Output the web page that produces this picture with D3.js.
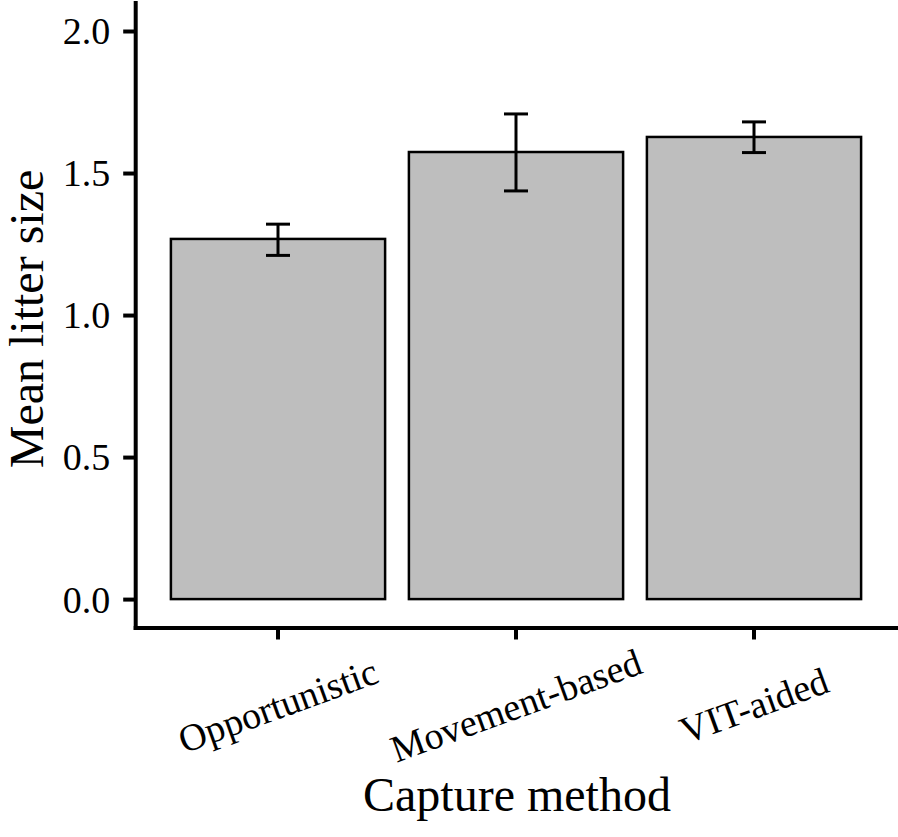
<!DOCTYPE html>
<html>
<head>
<meta charset="utf-8">
<script src="https://cdn.jsdelivr.net/npm/d3@7"></script>
<style>
	body { margin: 0; background: #fff; }
	svg text { font-family: "Liberation Serif", "Times New Roman", serif; fill: #000; }
</style>
</head>
<body>
<div id="graph"></div>
<script>
"use strict";
// values
let categories = ["Opportunistic", "Movement-based", "VIT-aided"];
let meanLitter = [1.268, 1.574, 1.627];
let errLow = [1.210, 1.437, 1.572];
let errHigh = [1.320, 1.708, 1.680];
let yTicks = [0, 0.5, 1.0, 1.5, 2.0];

let width = 898, height = 837;
let plot = { left: 135.2, right: 896.8, top: 2.6, bottom: 627.5 };

let svg = d3.select("#graph")
			.append("svg")
			.attr("width", width)
			.attr("height", height);

let x = d3.scaleBand()
		.domain(categories)
		.range([plot.left, plot.right])
		.paddingInner(0.1)
		.paddingOuter(0.15);

let y = d3.scaleLinear()
		.domain([-0.1, 2.1])
		.range([plot.bottom, plot.top]);

let data = categories.map(function(c, i)
{
	return { name: c, value: meanLitter[i], lo: errLow[i], hi: errHigh[i] };
});

// bars
svg.append("g")
	.selectAll("rect")
	.data(data)
	.enter().append("rect")
	.attr("x", function(d) { return x(d.name); })
	.attr("width", x.bandwidth())
	.attr("y", function(d) { return y(d.value); })
	.attr("height", function(d) { return y(0) - y(d.value); })
	.attr("fill", "#bebebe")
	.attr("stroke", "#000")
	.attr("stroke-width", 2.5);

// error bars
let capHalf = 12;
let eb = svg.append("g")
			.attr("stroke", "#000")
			.attr("stroke-width", 3)
			.selectAll("g")
			.data(data)
			.enter().append("g");
eb.append("line")
	.attr("x1", function(d) { return x(d.name) + x.bandwidth() / 2; })
	.attr("x2", function(d) { return x(d.name) + x.bandwidth() / 2; })
	.attr("y1", function(d) { return y(d.lo); })
	.attr("y2", function(d) { return y(d.hi); });
["lo", "hi"].forEach(function(k)
{
	eb.append("line")
		.attr("x1", function(d) { return x(d.name) + x.bandwidth() / 2 - capHalf; })
		.attr("x2", function(d) { return x(d.name) + x.bandwidth() / 2 + capHalf; })
		.attr("y1", function(d) { return y(d[k]); })
		.attr("y2", function(d) { return y(d[k]); });
});

// y axis
let yAxis = svg.append("g")
			.attr("transform", "translate(" + plot.left + ",0)")
			.call(d3.axisLeft(y).tickValues(yTicks).tickFormat(d3.format(".1f")).tickSize(12).tickSizeOuter(0).tickPadding(13));

// x axis
let xAxis = svg.append("g")
			.attr("transform", "translate(0," + plot.bottom + ")")
			.call(d3.axisBottom(x).tickSize(12).tickSizeOuter(0));

[yAxis, xAxis].forEach(function(ax)
{
	ax.select(".domain").attr("stroke", "#000").attr("stroke-width", 4).attr("stroke-linecap", "square");
	ax.selectAll(".tick line").attr("stroke", "#000").attr("stroke-width", 4);
});

yAxis.selectAll(".tick text")
	.attr("font-size", 38)
	.attr("font-family", null)
	.attr("fill", "#000")
	.attr("dy", "0.34em");

xAxis.selectAll(".tick text")
	.attr("font-size", 38)
	.attr("font-family", null)
	.attr("fill", "#000")
	.attr("y", 0)
	.attr("dy", null)
	.attr("text-anchor", "middle")
	.attr("dominant-baseline", "central")
	.attr("transform", "translate(0,78) rotate(-20)");
xAxis.attr("font-family", null);
yAxis.attr("font-family", null);

// axis titles
svg.append("text")
	.attr("x", 517)
	.attr("y", 811)
	.attr("text-anchor", "middle")
	.attr("font-size", 48)
	.text("Capture method");

svg.append("text")
	.attr("transform", "translate(43,319) rotate(-90)")
	.attr("text-anchor", "middle")
	.attr("font-size", 48)
	.text("Mean litter size");
</script>
</body>
</html>
